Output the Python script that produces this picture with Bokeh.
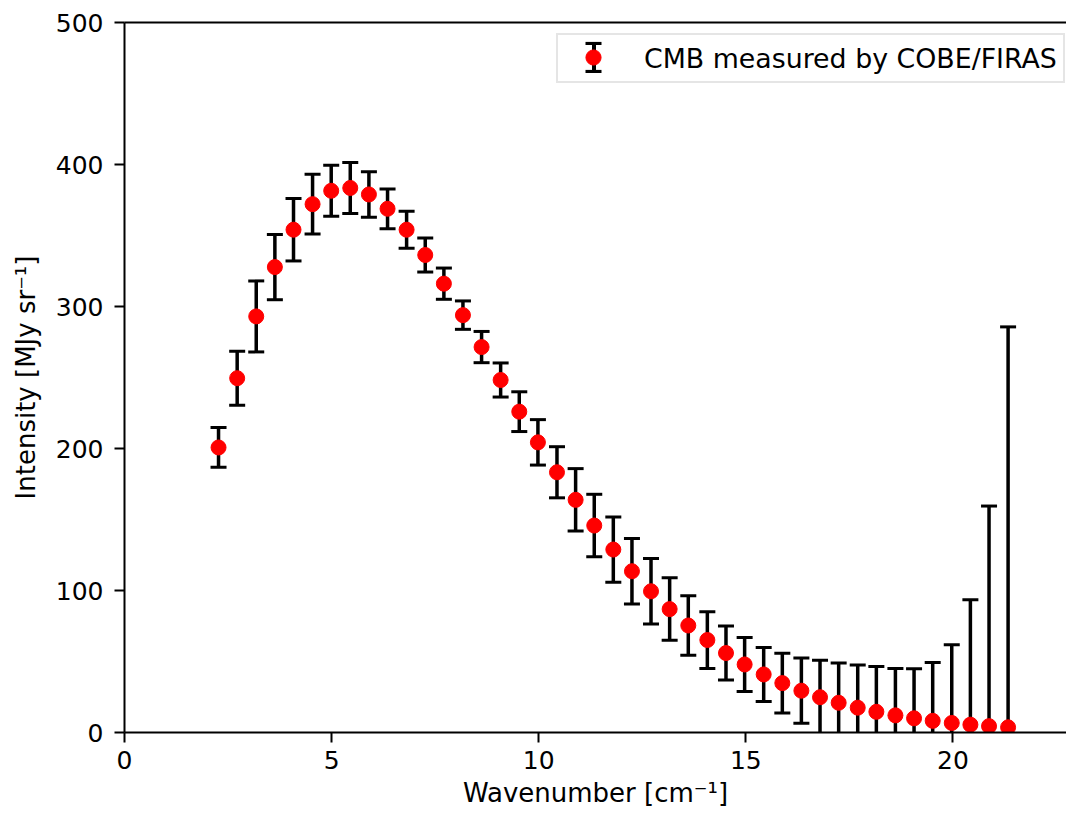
from bokeh.plotting import figure
from bokeh.models import ColumnDataSource, Range1d, FixedTicker, LinearAxis, Legend, LegendItem
from bokeh.core.properties import value
from bokeh.embed import file_html
from bokeh.resources import INLINE

# COBE/FIRAS monopole spectrum
wavenumber = [2.27, 2.72, 3.18, 3.63, 4.08, 4.54, 4.99, 5.45, 5.90, 6.35, 6.81, 7.26, 7.71,
              8.17, 8.62, 9.08, 9.53, 9.98, 10.44, 10.89, 11.34, 11.80, 12.25, 12.71, 13.16,
              13.61, 14.07, 14.52, 14.97, 15.43, 15.88, 16.34, 16.79, 17.24, 17.70, 18.15,
              18.61, 19.06, 19.51, 19.97, 20.42, 20.87, 21.33]
intensity = [200.723, 249.508, 293.024, 327.770, 354.081, 372.079, 381.493, 383.478, 378.901,
             368.833, 354.063, 336.278, 316.076, 293.924, 271.432, 248.239, 225.940, 204.327,
             183.262, 163.830, 145.750, 128.835, 113.568, 99.451, 86.893, 75.342, 65.119,
             55.943, 47.918, 40.889, 34.772, 29.427, 24.838, 20.937, 17.475, 14.562, 12.074,
             9.981, 8.210, 6.724, 5.513, 4.478, 3.646]
uncertainty = [14, 19, 25, 23, 22, 21, 18, 18, 16, 14, 13, 12, 11, 10, 11, 12, 14, 16, 18, 22,
               22, 23, 23, 23, 22, 21, 20, 19, 19, 19, 21, 23, 26, 28, 30, 32, 33, 35, 41, 55,
               88, 155, 282]
x_ticks = [0, 5, 10, 15, 20]
y_ticks = [0, 100, 200, 300, 400, 500]
legend_label = "CMB measured by COBE/FIRAS"
x_label = "Wavenumber [cm\u207b\u00b9]"
y_label = "Intensity [MJy sr\u207b\u00b9]"

lower = [v - e for v, e in zip(intensity, uncertainty)]
upper = [v + e for v, e in zip(intensity, uncertainty)]
src = ColumnDataSource(dict(x=wavenumber, y=intensity, lo=lower, hi=upper))

FONT = "DejaVu Sans"

p = figure(width=1066, height=821, x_range=Range1d(0, 22.74), y_range=Range1d(0, 500),
           output_backend="svg", toolbar_location=None,
           min_border_left=124, min_border_right=0, min_border_top=22, min_border_bottom=89)
p.xgrid.visible = False
p.ygrid.visible = False
p.outline_line_color = None
p.background_fill_color = "white"
p.border_fill_color = "white"

stems = p.segment(x0="x", y0="lo", x1="x", y1="hi", source=src, line_color="black", line_width=3.5)
caps_hi = p.scatter("x", "hi", marker="dash", size=16, line_color="black", line_width=3, source=src)
caps_lo = p.scatter("x", "lo", marker="dash", size=16, line_color="black", line_width=3, source=src)
dots = p.scatter("x", "y", size=15, fill_color="red", line_color="red", line_width=1, source=src)

# legend-only helper renderers (hidden in the plot)
leg_dummy = p.scatter(x=wavenumber[:1], y=intensity[:1], size=1, fill_alpha=0, line_alpha=0,
                      visible=False)
leg_bar = p.quad(left=wavenumber[:1], right=wavenumber[:1], bottom=lower[:1], top=upper[:1],
                 fill_color="black", line_color=None, visible=False)

p.xaxis.ticker = FixedTicker(ticks=x_ticks)
p.yaxis.ticker = FixedTicker(ticks=y_ticks)
for ax in (p.xaxis[0], p.yaxis[0]):
    ax.major_label_text_font = FONT
    ax.major_label_text_font_size = "25px"
    ax.major_label_text_color = "black"
    ax.axis_label_text_font = FONT
    ax.axis_label_text_font_size = "26px"
    ax.axis_label_text_font_style = "normal"
    ax.axis_label_text_color = "black"
    ax.major_tick_out = 10
    ax.major_tick_in = 0
    ax.minor_tick_out = 0
    ax.minor_tick_in = 0
    ax.major_tick_line_width = 2
    ax.axis_line_width = 2
    ax.major_tick_line_color = "black"
    ax.axis_line_color = "black"
p.xaxis.axis_label = x_label
p.yaxis.axis_label = y_label
p.yaxis.major_label_standoff = 11
p.xaxis.major_label_standoff = 8
p.yaxis.axis_label_standoff = 12
p.xaxis.axis_label_standoff = 6

top = LinearAxis(ticker=FixedTicker(ticks=[]), axis_line_width=2, axis_line_color="black",
                 major_tick_out=0, major_tick_in=0, minor_tick_out=0, minor_tick_in=0,
                 major_label_text_font_size="0px")
p.add_layout(top, "above")

# main legend: frame + label
legend = Legend(items=[LegendItem(label=legend_label, renderers=[leg_dummy])],
                location=(432, 649), glyph_width=64, glyph_height=34, padding=6, margin=0,
                label_standoff=16, label_text_font=FONT, label_text_font_size="26.8px",
                label_text_color="black", border_line_color="#cccccc", border_line_width=2,
                background_fill_color="white", background_fill_alpha=0.8,
                inactive_fill_alpha=0)
p.add_layout(legend)


def glyph_legend(renderer, loc, gw, gh):
    lg = Legend(items=[LegendItem(label=value(" "), renderers=[renderer])],
                location=loc, glyph_width=gw, glyph_height=gh, padding=0, margin=0,
                label_standoff=0, label_height=1, label_width=1, label_text_font_size="1px",
                border_line_color=None, background_fill_alpha=0, inactive_fill_alpha=0)
    p.add_layout(lg)


# error-bar symbol: stem, two caps, then the marker on top
glyph_legend(leg_bar, (466.5, 657.5), 5, 35)
glyph_legend(leg_bar, (459, 687), 20, 4)
glyph_legend(leg_bar, (459, 659), 20, 4)
glyph_legend(dots, (450, 656), 38, 38)

open("out.html", "w").write(file_html(p, INLINE))
